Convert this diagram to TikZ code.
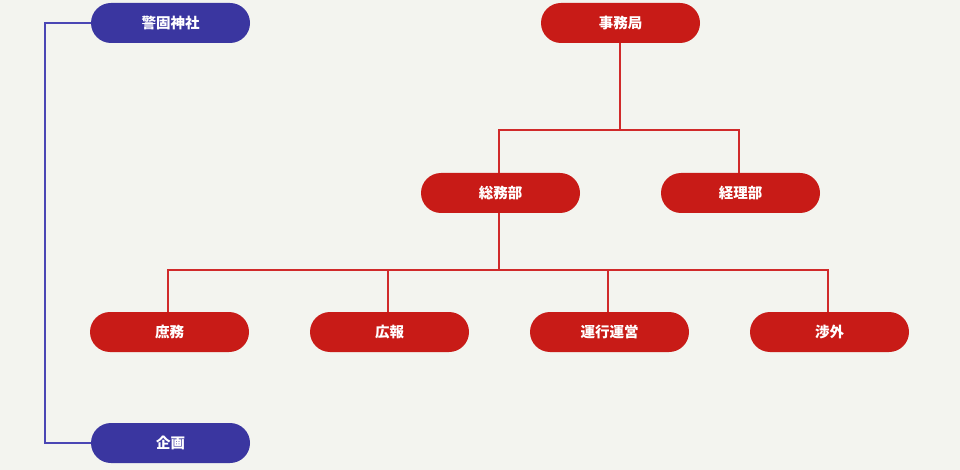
\documentclass[tikz,border=0pt]{standalone}
\usepackage{fontspec}
\newfontfamily\cjk{Noto Sans CJK JP}
\definecolor{bgc}{HTML}{F3F4EF}
\definecolor{redbox}{HTML}{C81B17}
\definecolor{bluebox}{HTML}{3A36A0}
\definecolor{redline}{HTML}{D02A2A}
\definecolor{blueline}{HTML}{4A46B4}
\begin{document}
\begin{tikzpicture}[x=1pt,y=-1pt,
  pill/.style={rounded corners=20pt, minimum width=159pt, minimum height=40pt, inner sep=0pt,
    text=white, font=\cjk\bfseries\fontsize{14.5}{16}\selectfont},
  redpill/.style={pill, fill=redbox},
  bluepill/.style={pill, fill=bluebox},
  rline/.style={draw=redline, line width=1.2pt},
  bline/.style={draw=blueline, line width=1.2pt}]
\fill[bgc] (0,0) rectangle (960,470);
\useasboundingbox (0,0) rectangle (960,470);
\coordinate (j1) at (620,130);
\coordinate (j2) at (499,270);
\node[bluepill] (keigo) at (170.5,23) {警固神社};
\node[redpill] (jimu) at (620.5,23) {事務局};
\node[redpill] (somu) at (500.5,193) {総務部};
\node[redpill] (keiri) at (740.5,193) {経理部};
\node[redpill] (shomu) at (169.5,332) {庶務};
\node[redpill] (koho) at (389.5,332) {広報};
\node[redpill] (unko) at (609.5,332) {運行運営};
\node[redpill] (shogai) at (829.5,332) {渉外};
\node[bluepill] (kikaku) at (170.5,443) {企画};
\draw[rline] (jimu.south -| j1) -- (j1);
\draw[rline] (somu.north -| 499,0) |- (j1) -| (keiri.north -| 739,0);
\draw[rline] (somu.south -| j2) -- (j2);
\draw[rline] (shomu.north -| 168,0) |- (j2) -| (shogai.north -| 828,0);
\draw[rline] (koho.north -| 388,0) -- (388,270);
\draw[rline] (unko.north -| 608,0) -- (608,270);
\draw[bline] (keigo.west) -- (45,23) |- (kikaku.west);
\end{tikzpicture}
\end{document}
